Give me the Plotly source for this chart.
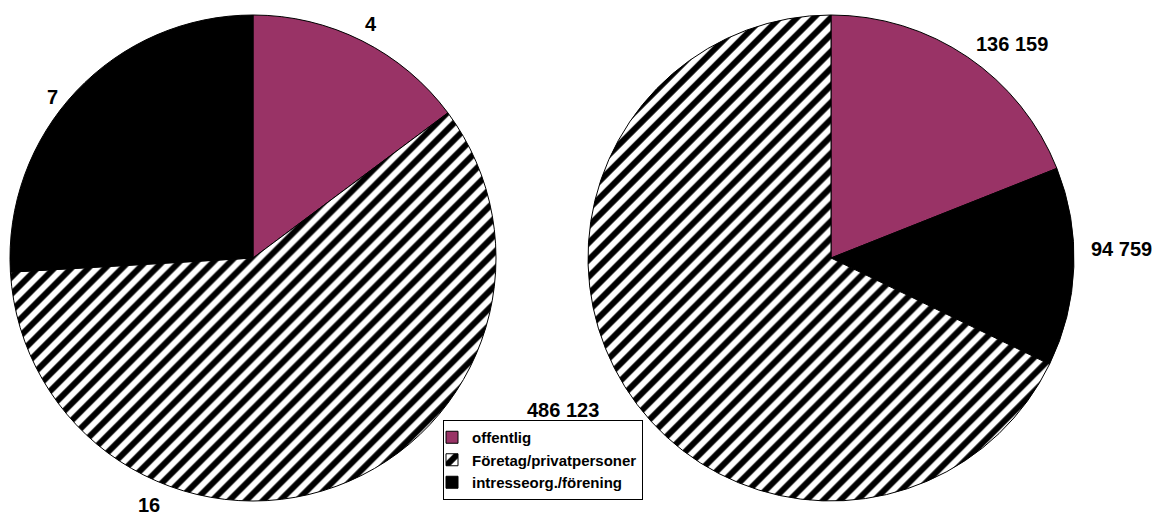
import plotly.graph_objects as go

# Categories and values for the two pies
categories_left = ["offentlig", "Företag/privatpersoner", "intresseorg./förening"]
values_left = [4, 16, 7]

categories_right = ["offentlig", "intresseorg./förening", "Företag/privatpersoner"]
values_right = [136159, 94759, 486123]

label_text_left = ["4", "16", "7"]
label_text_right = ["136 159", "94 759", "486 123"]

W, H = 1157, 517

colors = {
    "offentlig": "#993366",
    "Företag/privatpersoner": "#ffffff",
    "intresseorg./förening": "#000000",
}
shapes = {
    "offentlig": "",
    "Företag/privatpersoner": "/",
    "intresseorg./förening": "",
}


def pie(labels, values, x0, x1, y0, y1, showlegend):
    return go.Pie(
        labels=labels,
        values=values,
        sort=False,
        direction="clockwise",
        rotation=0,
        textinfo="none",
        hoverinfo="label+value",
        showlegend=showlegend,
        domain=dict(x=[x0 / W, x1 / W], y=[1 - y1 / H, 1 - y0 / H]),
        marker=dict(
            colors=[colors[c] for c in labels],
            line=dict(color="#000000", width=1),
            pattern=dict(
                shape=[shapes[c] for c in labels],
                fgcolor="#000000",
                bgcolor="#ffffff",
                size=12,
                solidity=0.5,
            ),
        ),
    )


fig = go.Figure()
fig.add_trace(pie(categories_left, values_left, 10, 496, 15, 501, True))
fig.add_trace(pie(categories_right, values_right, 588, 1074, 15, 501, False))

# Value labels placed beside their slices
label_pos_left = [(371, 24), (149, 505), (52, 97)]
label_pos_right = [(1012, 44), (1121, 249), (563, 410)]
for txt, (px, py) in list(zip(label_text_left, label_pos_left)) + list(
    zip(label_text_right, label_pos_right)
):
    fig.add_annotation(
        x=px / W, y=1 - py / H, xref="paper", yref="paper",
        text=f"<b>{txt}</b>", showarrow=False,
        font=dict(family="Liberation Sans, Arial", size=20, color="#000000"),
        xanchor="center", yanchor="middle",
    )

fig.update_layout(
    width=W,
    height=H,
    margin=dict(l=0, r=0, t=0, b=0),
    paper_bgcolor="#ffffff",
    plot_bgcolor="#ffffff",
    legend=dict(
        x=443 / W, y=1 - 420 / H, xanchor="left", yanchor="top",
        bgcolor="#ffffff", bordercolor="#000000", borderwidth=1,
        font=dict(family="Liberation Sans, Arial", size=15, color="#000000", weight="bold"),
        itemwidth=30,
        indentation=-12,
        tracegroupgap=0,
    ),
)

fig.write_html("out.html")
